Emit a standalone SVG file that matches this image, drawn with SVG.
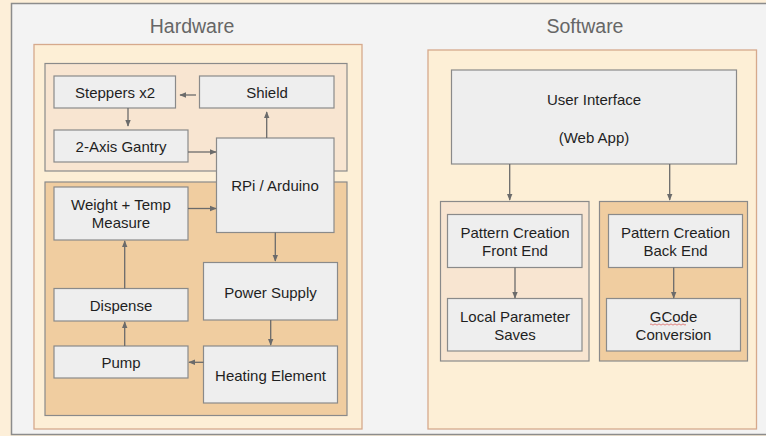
<svg xmlns="http://www.w3.org/2000/svg" width="766" height="436" viewBox="0 0 766 436">
<defs>
<style>
.node rect{fill:#eeeeee;stroke:#8a8a8a;stroke-width:1.2}
.t{font-family:"Liberation Sans",Arial,sans-serif;font-size:15px;fill:#1f1f1f;text-anchor:middle}
.title{font-family:"Liberation Sans",Arial,sans-serif;font-size:19.5px;fill:#666;text-anchor:middle}
.grp{stroke:#8a8a8a;stroke-width:1.2}
.outer{fill:#fdefd6;stroke:#d6a98c;stroke-width:1.3}
.light{fill:#f8e5d1}
.tan{fill:#f0cda0}
#connectors line{stroke:#6b6b6b;stroke-width:1.3;marker-end:url(#ah)}
</style>
<marker id="ah" viewBox="0 0 10 10" refX="9" refY="5" markerWidth="7" markerHeight="7" markerUnits="userSpaceOnUse" orient="auto">
<path d="M0,1 L10,5 L0,9 z" fill="#6b6b6b"/>
</marker>
</defs>
<rect x="0" y="0" width="766" height="436" fill="#fdefd9"/>
<rect x="11.5" y="3.5" width="760" height="431" fill="#f3f3f3" stroke="#8c8c8c" stroke-width="1.5"/>

<g id="hardware">
<text class="title" x="192" y="33">Hardware</text>
<rect class="outer" x="34" y="44.5" width="328" height="384.5"/>
<rect class="grp light" x="45" y="63.5" width="302" height="107.5"/>
<rect class="grp tan" x="45" y="182" width="302" height="233.5"/>
</g>

<g id="software">
<text class="title" x="585" y="33">Software</text>
<rect class="outer" x="428" y="50" width="328.5" height="379"/>
<rect class="grp light" x="440.5" y="201.5" width="148.5" height="159.5"/>
<rect class="grp tan" x="599.5" y="201.5" width="148" height="159.5"/>
</g>

<g id="steppers" class="node"><rect x="54" y="76" width="121.5" height="32"/><text class="t" x="115" y="98">Steppers x2</text></g>
<g id="shield" class="node"><rect x="199.5" y="76" width="134.5" height="32"/><text class="t" x="267" y="98">Shield</text></g>
<g id="gantry" class="node"><rect x="54" y="130" width="134" height="32"/><text class="t" x="121" y="152">2-Axis Gantry</text></g>
<g id="rpi" class="node"><rect x="216.5" y="138" width="117.5" height="94.5"/><text class="t" x="275" y="191">RPi / Arduino</text></g>
<g id="weight" class="node"><rect x="54" y="187" width="134" height="53"/><text class="t" x="121" y="210">Weight + Temp</text><text class="t" x="121" y="228">Measure</text></g>
<g id="dispense" class="node"><rect x="54" y="288.5" width="134" height="32.5"/><text class="t" x="121" y="310.5">Dispense</text></g>
<g id="pump" class="node"><rect x="54" y="346" width="134" height="32"/><text class="t" x="121" y="368">Pump</text></g>
<g id="power" class="node"><rect x="203.5" y="262.5" width="134" height="57.5"/><text class="t" x="270.5" y="297.5">Power Supply</text></g>
<g id="heating" class="node"><rect x="203.5" y="346" width="134" height="57"/><text class="t" x="270.5" y="381">Heating Element</text></g>

<g id="ui" class="node"><rect x="451.5" y="70" width="285" height="94"/><text class="t" x="594" y="105">User Interface</text><text class="t" x="594" y="143">(Web App)</text></g>
<g id="frontend" class="node"><rect x="447.5" y="214.5" width="134.5" height="53"/><text class="t" x="515" y="237.5">Pattern Creation</text><text class="t" x="515" y="255.5">Front End</text></g>
<g id="local" class="node"><rect x="447.5" y="298.5" width="134.5" height="52.5"/><text class="t" x="515" y="321.5">Local Parameter</text><text class="t" x="515" y="339.5">Saves</text></g>
<g id="backend" class="node"><rect x="608.5" y="214.5" width="134" height="53"/><text class="t" x="675.5" y="237.5">Pattern Creation</text><text class="t" x="675.5" y="255.5">Back End</text></g>
<g id="gcode" class="node"><rect x="606.5" y="298.5" width="134" height="52.5"/><text class="t" x="673.5" y="321.5">GCode</text><text class="t" x="673.5" y="339.5">Conversion</text>
<path d="M650,324.5 q1,-1.2 2,0 t2,0 t2,0 t2,0 t2,0 t2,0 t2,0 t2,0 t2,0 t2,0 t2,0 t2,0 t2,0 t2,0 t2,0 t2,0 t2,0 t2,0" fill="none" stroke="#d9534f" stroke-width="0.7"/></g>

<g id="connectors">
<line x1="196" y1="95" x2="180" y2="95"/>
<line x1="128" y1="108" x2="128" y2="126"/>
<line x1="188" y1="152" x2="216" y2="152"/>
<line x1="266.7" y1="138" x2="266.7" y2="112"/>
<line x1="188" y1="208.5" x2="216" y2="208.5"/>
<line x1="275.3" y1="232.5" x2="275.3" y2="261"/>
<line x1="270.7" y1="320" x2="270.7" y2="345"/>
<line x1="203.5" y1="362.3" x2="189" y2="362.3"/>
<line x1="124.7" y1="346" x2="124.7" y2="322"/>
<line x1="124.7" y1="288.5" x2="124.7" y2="241"/>
<line x1="509.7" y1="164" x2="509.7" y2="200"/>
<line x1="669.7" y1="164" x2="669.7" y2="200"/>
<line x1="515" y1="267.5" x2="515" y2="298"/>
<line x1="673.7" y1="267.5" x2="673.7" y2="298"/>
</g>
</svg>
